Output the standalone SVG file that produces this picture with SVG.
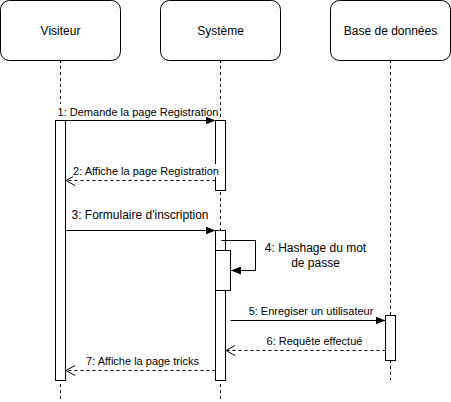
<svg xmlns="http://www.w3.org/2000/svg" width="451" height="402" viewBox="0 0 451 402">
<style>
.box{fill:#fff;stroke:#000;stroke-width:1}
.life{stroke:#000;stroke-width:1;stroke-dasharray:3 3;fill:none}
.act{fill:#fff;stroke:#000;stroke-width:1}
.msg{stroke:#000;stroke-width:1;fill:none}
.ret{stroke:#000;stroke-width:1;fill:none;stroke-dasharray:3 3}
text{font-family:"Liberation Sans",Arial,sans-serif;fill:#000}
.t12{font-size:12px}
.t11{font-size:11px}
.lbg{fill:#fff}
</style>
<defs>
<marker id="block" viewBox="0 0 10 8" refX="10" refY="4" markerWidth="10" markerHeight="8" markerUnits="userSpaceOnUse" orient="auto">
<path d="M0,0 L10,4 L0,8 Z" fill="#000"/>
</marker>
<marker id="open" viewBox="0 0 10 12" refX="9" refY="6" markerWidth="10" markerHeight="12" markerUnits="userSpaceOnUse" orient="auto">
<path d="M0,1 L9,6 L0,11" fill="none" stroke="#000" stroke-width="1"/>
</marker>
</defs>
<rect width="451" height="402" fill="#fff"/>
<g id="lifelines">
<line class="life" x1="60.5" y1="60" x2="60.5" y2="400"/>
<line class="life" x1="220.5" y1="60" x2="220.5" y2="400"/>
<line class="life" x1="390.5" y1="60" x2="390.5" y2="380"/>
</g>
<g id="visiteur">
<rect class="box" x="0.5" y="0.5" width="120" height="60" rx="9" ry="9"/>
<text class="t12" x="60.5" y="34.5" text-anchor="middle">Visiteur</text>
</g>
<g id="systeme">
<rect class="box" x="160.5" y="0.5" width="120" height="60" rx="9" ry="9"/>
<text class="t12" x="220.5" y="34.5" text-anchor="middle">Système</text>
</g>
<g id="bdd">
<rect class="box" x="330.5" y="0.5" width="120" height="60" rx="9" ry="9"/>
<text class="t12" x="390.5" y="34.5" text-anchor="middle">Base de données</text>
</g>
<g id="activations">
<rect id="act-visiteur" class="act" x="55.5" y="120.5" width="10" height="260"/>
<rect id="act-sys1" class="act" x="215.5" y="120.5" width="10" height="70"/>
<rect id="act-sys2" class="act" x="215.5" y="230.5" width="10" height="150"/>
<rect id="act-sys3" class="act" x="215.5" y="250.5" width="15" height="40"/>
<rect id="act-bdd" class="act" x="385.5" y="315.5" width="10" height="45"/>
</g>
<g id="connectors">
<line class="msg" x1="65.5" y1="120.5" x2="215.5" y2="120.5" marker-end="url(#block)"/>
<line class="ret" x1="215.5" y1="180.5" x2="66" y2="180.5" marker-end="url(#open)"/>
<line class="msg" x1="65.5" y1="230.5" x2="215.5" y2="230.5" marker-end="url(#block)"/>
<polyline class="msg" points="221.5,240.5 255.5,240.5 255.5,270.5 231,270.5" marker-end="url(#block)"/>
<line class="msg" x1="230.5" y1="320.5" x2="385.5" y2="320.5" marker-end="url(#block)"/>
<line class="ret" x1="385.5" y1="350.5" x2="226" y2="350.5" marker-end="url(#open)"/>
<line class="ret" x1="215.5" y1="370.5" x2="66" y2="370.5" marker-end="url(#open)"/>
</g>
<g id="labels">
<rect class="lbg" x="58" y="104" width="160" height="13"/>
<text class="t11" x="138" y="115.5" text-anchor="middle">1: Demande la page Registration</text>
<rect class="lbg" x="73" y="164" width="146" height="13"/>
<text class="t11" x="146" y="175" text-anchor="middle">2: Affiche la page Registration</text>
<text class="t12" x="140" y="218.5" text-anchor="middle">3: Formulaire d'inscription</text>
<text class="t12" x="315.5" y="251.5" text-anchor="middle">4: Hashage du mot</text>
<text class="t12" x="315.5" y="266.5" text-anchor="middle">de passe</text>
<text class="t11" x="311" y="315" text-anchor="middle">5: Enregiser un utilisateur</text>
<text class="t11" x="314.5" y="345" text-anchor="middle">6: Requête effectué</text>
<text class="t11" x="142.5" y="364.5" text-anchor="middle">7: Affiche la page tricks</text>
</g>
</svg>
